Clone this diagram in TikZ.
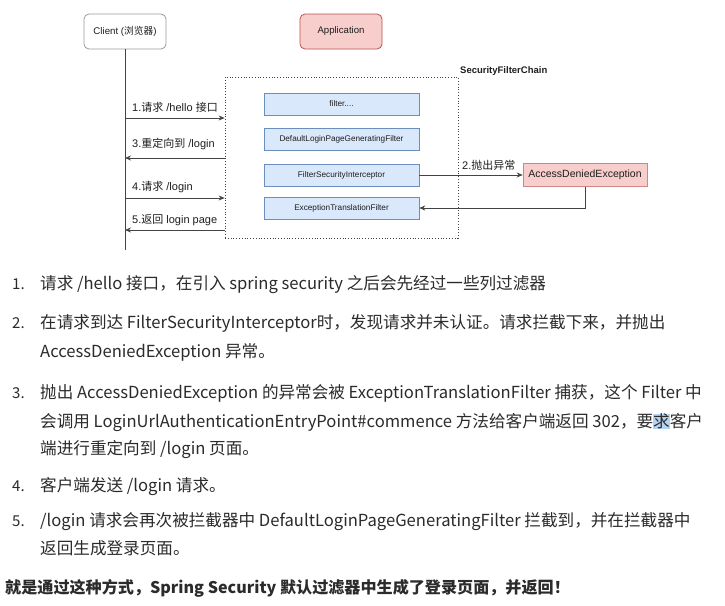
\documentclass[tikz,border=0pt]{standalone}
\usepackage{fontspec}
\setmainfont{Noto Sans CJK SC}
\newfontfamily\dfont{Liberation Sans}
\newfontfamily\cjk{Noto Sans CJK SC}
\usetikzlibrary{arrows.meta}
\definecolor{txt}{HTML}{2B2B2B}
\definecolor{dtxt}{HTML}{1E1E1E}
\definecolor{pinkf}{HTML}{F8CECC}
\definecolor{pinkd}{HTML}{B85450}
\definecolor{bluef}{HTML}{DAE8FC}
\definecolor{blued}{HTML}{6C8EBF}
\definecolor{grayd}{HTML}{9A9A9A}
\definecolor{hl}{HTML}{B7D3F2}
\definecolor{lineg}{HTML}{444444}
\tikzset{
  actor/.style={draw=grayd, fill=white, rounded corners=5pt, minimum width=82pt, minimum height=35pt, font=\dfont\fontsize{9.7}{11}\selectfont, text=dtxt, line width=0.8pt},
  app/.style={actor, draw=pinkd, fill=pinkf, font=\dfont\fontsize{9.6}{11}\selectfont},
  filt/.style={draw=blued, fill=bluef, minimum width=155pt, minimum height=22pt, font=\dfont\fontsize{8.2}{10}\selectfont, text=dtxt, line width=0.6pt},
  exc/.style={draw=pinkd!70, fill=pinkf, minimum width=124pt, minimum height=23pt, font=\dfont\fontsize{10.5}{12}\selectfont, text=dtxt, line width=0.6pt},
  chainbox/.style={draw=lineg, dotted, line width=0.8pt, minimum width=233pt, minimum height=161pt},
  msg/.style={draw=lineg, line width=0.7pt, -{Stealth[length=6pt,width=5pt]}},
  lbl/.style={font=\dfont\fontsize{11}{12}\selectfont, text=dtxt, anchor=west, inner sep=0pt},
  body/.style={font=\fontsize{16.6}{19}\selectfont, text=txt, anchor=west, inner sep=0pt, text height=0.88em, text depth=0.12em},
  num/.style={body, font=\fontsize{15}{19}\selectfont}
}
\begin{document}
\begin{tikzpicture}[x=1pt,y=-1pt]
\useasboundingbox (0,0) rectangle (725,605);
\fill[white] (0,0) rectangle (725,605);

% actors
\node[actor] (client) at (125,31.5) {Client ({\cjk 浏览器})};
\node[app] (app) at (341,31.5) {Application};

% security chain
\node[chainbox] (chain) at (341.5,157.5) {};
\node[font=\dfont\bfseries\fontsize{9.5}{11}\selectfont, text=dtxt, anchor=west, inner sep=0pt] (chainlbl) at (460,71) {SecurityFilterChain};

\node[filt] (f1) at (341.5,104) {filter....};
\node[filt] (f2) at (341.5,139) {DefaultLoginPageGeneratingFilter};
\node[filt] (f3) at (341.5,175) {FilterSecurityInterceptor};
\node[filt] (f4) at (341.5,208) {ExceptionTranslationFilter};

\node[exc] (ade) at (585,175) {AccessDeniedException};

% lifeline
\coordinate (lifeend) at (125,250);
\draw[draw=lineg, line width=0.8pt] (client.south) -- (lifeend);

\coordinate (m1) at (125,118);
\coordinate (m3) at (125,158);
\coordinate (m4) at (125,198);
\coordinate (m5) at (125,230);

\draw[msg] (m1) -- (chain.west |- m1);
\draw[msg] (chain.west |- m3) -- (m3);
\draw[msg] (m4) -- (chain.west |- m4);
\draw[msg] (chain.west |- m5) -- (m5);

\node[lbl] (l1) at (132,107) {1.{\cjk 请求} /hello {\cjk 接口}};
\node[lbl] (l3) at (132,144) {3.{\cjk 重定向到} /login};
\node[lbl] (l4) at (132,187) {4.{\cjk 请求} /login};
\node[lbl] (l5) at (132,220) {5.{\cjk 返回} login page};

\draw[msg] (f3.east) -- (ade.west);
\node[lbl] (l2) at (462,165) {2.{\cjk 抛出异常}};
\coordinate (bend) at (ade.south |- f4.east);
\draw[msg] (ade.south) -- (bend) -- (f4.east);

% text
\node[num] (n1) at (12,286) {1.};
\node[body] (t1) at (40,286) {请求 /hello 接口，在引入 spring security 之后会先经过一些列过滤器};
\node[num] (n2) at (12,325) {2.};
\node[body] (t2a) at (40,325) {在请求到达 FilterSecurityInterceptor时，发现请求并未认证。请求拦截下来，并抛出};
\node[body] (t2b) at (40,354) {AccessDeniedException 异常。};
\node[num] (n3) at (12,395) {3.};
\node[body] (t3a) at (40,395) {抛出 AccessDeniedException 的异常会被 ExceptionTranslationFilter 捕获，这个 Filter 中};
\node[body] (t3b) at (40,424) {会调用 LoginUrlAuthenticationEntryPoint\#commence 方法给客户端返回 302，要{\setlength{\fboxsep}{0pt}\colorbox{hl}{求}}客户};
\node[body] (t3c) at (40,451) {端进行重定向到 /login 页面。};
\node[num] (n4) at (12,488) {4.};
\node[body] (t4) at (40,488) {客户端发送 /login 请求。};
\node[num] (n5) at (12,523) {5.};
\node[body] (t5a) at (40,523) {/login 请求会再次被拦截器中 DefaultLoginPageGeneratingFilter 拦截到，并在拦截器中};
\node[body] (t5b) at (40,551) {返回生成登录页面。};
\node[body, font=\bfseries\fontsize{16.1}{19}\selectfont] (fin) at (5,590) {就是通过这种方式，Spring Security 默认过滤器中生成了登录页面，并返回！};
\end{tikzpicture}
\end{document}
